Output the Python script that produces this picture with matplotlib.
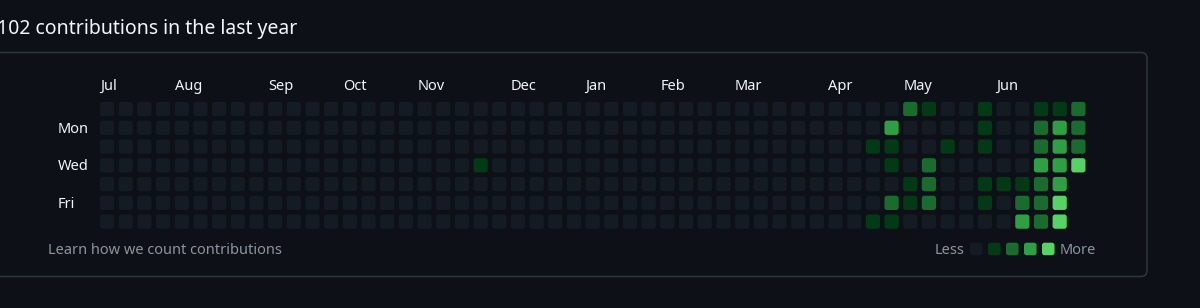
import matplotlib
matplotlib.use('Agg')
import matplotlib.pyplot as plt
from matplotlib.patches import FancyBboxPatch

plt.rcParams['font.family'] = ['Noto Sans', 'DejaVu Sans']

# contribution data: one entry per non-empty day (week column, weekday row, level)
weeks = [20, 41, 41, 42, 42, 42, 42, 42, 43, 43, 43, 44, 44, 44, 44, 45,
         47, 47, 47, 47, 47, 48, 49, 49, 49,
         50, 50, 50, 50, 50, 50, 50, 51, 51, 51, 51, 51, 51, 51, 52, 52, 52, 52]
days = [3, 2, 6, 1, 2, 3, 5, 6, 0, 4, 5, 0, 3, 4, 5, 2,
        0, 1, 2, 4, 5, 4, 4, 5, 6,
        0, 1, 2, 3, 4, 5, 6, 0, 1, 2, 3, 4, 5, 6, 0, 1, 2, 3]
levels = [1, 1, 1, 3, 1, 1, 2, 1, 2, 1, 1, 1, 2, 2, 2, 1,
          1, 1, 1, 1, 1, 1, 1, 2, 3,
          1, 2, 2, 3, 2, 2, 2, 1, 3, 3, 3, 3, 4, 4, 2, 2, 2, 4]
n_weeks = 53
last_week_days = 4  # Sun..Wed in the final column

months = ['Jul', 'Aug', 'Sep', 'Oct', 'Nov', 'Dec', 'Jan', 'Feb', 'Mar', 'Apr', 'May', 'Jun']
month_weeks = [0, 4, 9, 13, 17, 22, 26, 30, 34, 39, 43, 48]
day_labels = {1: 'Mon', 3: 'Wed', 5: 'Fri'}
total = 102

BG = '#0d1117'
BORDER = '#30363d'
TEXT = '#f0f6fc'
MUTED = '#8b949e'
palette = ['#151b23', '#033a16', '#196c2e', '#2ea043', '#56d364']

W, H = 1200, 308
fig = plt.figure(figsize=(W / 100, H / 100), dpi=100, facecolor=BG)

# page layer in pixel units
bg = fig.add_axes([0, 0, 1, 1])
bg.set_xlim(0, W)
bg.set_ylim(H, 0)
bg.axis('off')
bg.add_patch(FancyBboxPatch((-30, 52.5), 1177, 224, boxstyle='round,pad=0,rounding_size=6',
                            facecolor=BG, edgecolor=BORDER, linewidth=1.1))
bg.text(-3, 29, f'{total} contributions in the last year', color=TEXT, fontsize=14,
        va='center', ha='left')
bg.text(48, 251, 'Learn how we count contributions', color=MUTED, fontsize=10.5,
        va='center', ha='left')

# legend
lx, pitch, sz = 970, 18, 12.5
bg.text(lx - 6, 251, 'Less', color=MUTED, fontsize=10.5, va='center', ha='right')
for i, c in enumerate(palette):
    bg.add_patch(FancyBboxPatch((lx + i * pitch, 242.7), sz, sz,
                                boxstyle='round,pad=0,rounding_size=2.5',
                                facecolor=c, edgecolor='none'))
bg.text(lx + 4 * pitch + sz + 5, 251, 'More', color=MUTED, fontsize=10.5, va='center', ha='left')

# calendar grid in week/day units
cw, ch = 18.68, 18.77
x0, y0 = 107 - 0.5 * cw, 109 - 0.5 * ch
ax = fig.add_axes([x0 / W, 1 - (y0 + 7 * ch) / H, n_weeks * cw / W, 7 * ch / H])
ax.set_xlim(-0.5, n_weeks - 0.5)
ax.set_ylim(6.5, -0.5)
ax.axis('off')

grid = {}
for w, d, lv in zip(weeks, days, levels):
    grid[(w, d)] = lv

s = 0.76
for w in range(n_weeks):
    nd = last_week_days if w == n_weeks - 1 else 7
    for d in range(nd):
        lv = grid.get((w, d), 0)
        ax.add_patch(FancyBboxPatch((w - s / 2, d - s / 2), s, s,
                                    boxstyle='round,pad=0,rounding_size=0.14',
                                    facecolor=palette[lv], edgecolor='none'))

for name, w in zip(months, month_weeks):
    ax.text(w - s / 2, -1.2, name, color=TEXT, fontsize=10.5, va='center', ha='left',
            clip_on=False)
for d, name in day_labels.items():
    ax.text(-2.62, d + 0.07, name, color=TEXT, fontsize=10.5, va='center', ha='left',
            clip_on=False)

fig.savefig('out.png', dpi=100, facecolor=BG)
